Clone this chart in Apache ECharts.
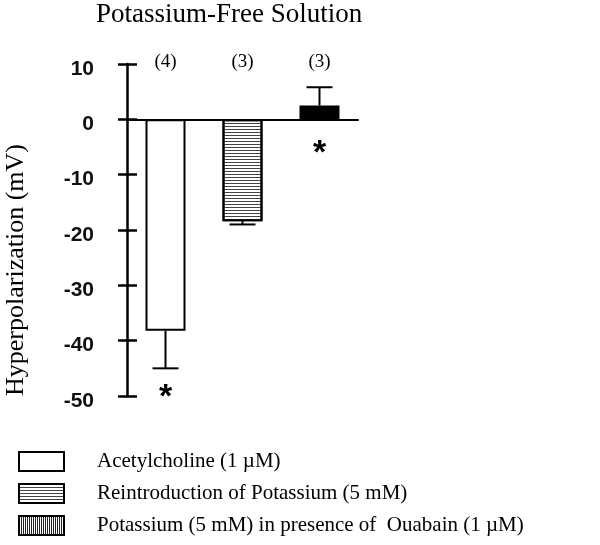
<!DOCTYPE html>
<html lang="en">
<head>
    <meta http-equiv="Content-Type" content="text/html; charset=utf-8"/>
    <title>Potassium-Free Solution</title>
    <script type="text/javascript" src="https://cdn.jsdelivr.net/npm/echarts@6/dist/echarts.min.js"></script>
    <style>
        html, body { margin: 0; padding: 0; background: #fff; }
        #chart { width: 600px; height: 545px; }
    </style>
</head>
<body>
<div id="chart"></div>
<script type="text/javascript">
    // data
    var categories = ['Acetylcholine (1 \u00b5M)', 'Reintroduction of Potassium (5 mM)', 'Potassium (5 mM) in presence of  Ouabain (1 \u00b5M)'];
    var means = [-38.2, -18.4, 2.5];
    var sems = [6.8, 0.6, 3.3];
    var nLabels = ['(4)', '(3)', '(3)'];
    var starY = [-48.9, null, -4.8];
    var yMin = -50, yMax = 10, yStep = 10;

    var serif = 'Liberation Serif';
    var sans = 'Liberation Sans';

    var myChart = echarts.init(document.getElementById('chart'));

    // bar styles, one per treatment
    var barStyles = [
        {color: '#fff', borderColor: '#000', borderWidth: 2},
        {color: '#fff', borderColor: '#000', borderWidth: 2,
            decal: {symbol: 'rect', symbolSize: 1, dashArrayX: [1, 0], dashArrayY: [1, 2], color: '#444'}},
        {color: '#000', borderColor: '#000', borderWidth: 2}
    ];

    var barSeries = categories.map(function (name, i) {
        var d = categories.map(function (c, j) { return j === i ? means[i] : null; });
        return {
            name: name,
            type: 'bar',
            data: d,
            barWidth: 40,
            barGap: '-100%',
            itemStyle: barStyles[i],
            silent: true
        };
    });

    // error bars, pointing away from zero
    var errData = means.map(function (m, i) {
        return [i, m, m < 0 ? m - sems[i] : m + sems[i]];
    });

    var option = {
        animation: false,
        graphic: [
            {type: 'text', left: 96, top: 1,
                style: {text: 'Potassium-Free Solution', font: '27px ' + serif, fill: '#000'}},
            {type: 'text', x: 16, y: 270, rotation: Math.PI / 2,
                style: {text: 'Hyperpolarization (mV)', font: '26px ' + serif, fill: '#000',
                    textAlign: 'center', textVerticalAlign: 'middle'}}
        ],
        legend: {
            orient: 'vertical',
            left: 18,
            top: 451,
            height: 94,
            padding: 0,
            itemWidth: 45,
            itemHeight: 19,
            itemGap: 11,
            icon: 'rect',
            selectedMode: false,
            textStyle: {fontFamily: serif, fontSize: 21, color: '#000', padding: [0, 0, 0, 28], lineHeight: 20},
            data: [
                {name: categories[0]},
                {name: categories[1]},
                {name: categories[2], itemStyle: {color: '#fff', borderColor: '#000', borderWidth: 2,
                    decal: {symbol: 'rect', symbolSize: 1, dashArrayX: [1, 1], dashArrayY: [1, 0], color: '#222'}}}
            ]
        },
        grid: {left: 127, right: 242, top: 64, bottom: 149},
        xAxis: {
            type: 'category',
            data: categories,
            axisLine: {onZero: true, lineStyle: {color: '#000', width: 2}},
            axisTick: {show: false},
            axisLabel: {show: false},
            splitLine: {show: false}
        },
        yAxis: [
            {
                type: 'value', min: yMin, max: yMax, interval: yStep,
                axisLine: {show: true, onZero: false, lineStyle: {color: '#000', width: 2.5}},
                axisTick: {show: true, length: 9, lineStyle: {color: '#000', width: 2.5}},
                axisLabel: {fontFamily: sans, fontSize: 21, fontWeight: 'bold', color: '#111', margin: 33,
                    verticalAlign: 'top', lineHeight: 10},
                splitLine: {show: false}
            },
            {
                type: 'value', min: yMin, max: yMax, interval: yStep, position: 'left', offset: 0,
                axisLine: {show: false},
                axisTick: {show: true, inside: true, length: 10, lineStyle: {color: '#000', width: 2.5}},
                axisLabel: {show: false},
                splitLine: {show: false}
            }
        ],
        series: barSeries.concat([
            {
                type: 'custom',
                silent: true,
                data: errData,
                renderItem: function (params, api) {
                    var i = api.value(0);
                    var p0 = api.coord([i, api.value(1)]);
                    var p1 = api.coord([i, api.value(2)]);
                    return {
                        type: 'group',
                        children: [
                            {type: 'line', shape: {x1: p0[0], y1: p0[1], x2: p1[0], y2: p1[1]},
                                style: {stroke: '#000', lineWidth: 2}},
                            {type: 'line', shape: {x1: p1[0] - 13, y1: p1[1], x2: p1[0] + 13, y2: p1[1]},
                                style: {stroke: '#000', lineWidth: 2}}
                        ]
                    };
                }
            },
            {
                // n per group above the plot
                type: 'custom',
                silent: true,
                data: nLabels.map(function (t, i) { return [i, 10.3]; }),
                renderItem: function (params, api) {
                    var p = api.coord([api.value(0), api.value(1)]);
                    return {type: 'text', x: p[0], y: p[1],
                        style: {text: nLabels[params.dataIndex], font: '19px ' + serif, fill: '#000',
                            textAlign: 'center', textVerticalAlign: 'middle'}};
                }
            },
            {
                // significance asterisks
                type: 'custom',
                silent: true,
                data: starY.map(function (v, i) { return v === null ? [i, NaN] : [i, v]; }),
                renderItem: function (params, api) {
                    var v = api.value(1);
                    if (isNaN(v)) return null;
                    var p = api.coord([api.value(0), v]);
                    return {type: 'text', x: p[0], y: p[1] + 8,
                        style: {text: '*', font: 'bold 34px ' + sans, fill: '#000',
                            textAlign: 'center', textVerticalAlign: 'middle'}};
                }
            }
        ])
    };

    myChart.setOption(option);
</script>
</body>
</html>
